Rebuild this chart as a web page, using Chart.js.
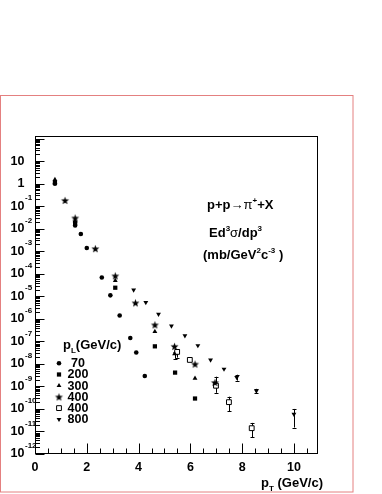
<!DOCTYPE html>
<html><head><meta charset="utf-8">
<script src="https://cdn.jsdelivr.net/npm/chart.js@4/dist/chart.umd.min.js"></script>
<style>
html,body{margin:0;padding:0;background:#fff;}
#wrap{position:relative;width:382px;height:494px;overflow:hidden;}
#c{position:absolute;left:0;top:0;}
.t{position:absolute;font-family:"Liberation Sans",Arial,sans-serif;font-weight:bold;font-size:13px;color:#000;white-space:nowrap;line-height:13px;}
.sp{font-size:8px;position:relative;top:-6px;}
.sb{font-size:8px;position:relative;top:4px;}
.sym{font-weight:normal;}
</style></head>
<body>
<div id="wrap">
<canvas id="c" width="382" height="494"></canvas>
<div class="t" style="left:207px;top:198px;">p+p<span class="sym">&rarr;&pi;</span><span class="sp">+</span>+X</div>
<div class="t" style="left:209px;top:226px;">Ed<span class="sp">3</span><span class="sym">&sigma;</span>/dp<span class="sp">3</span></div>
<div class="t" style="left:203px;top:248px;">(mb/GeV<span class="sp">2</span>c<span class="sp">-3</span> )</div>
<div class="t" style="left:63px;top:338px;">p<span class="sb">L</span>(GeV/c)</div>
<div class="t" style="left:261px;top:476px;">p<span class="sb">T</span> (GeV/c)</div>
</div>
<script>
// ---------------- data ----------------
const seriesLabels = ['70', '200', '300', '400', '400', '800'];

const pT_70  = [0.77, 1.55, 1.77, 2.00, 2.58, 2.91, 3.27, 3.68, 3.91, 4.24];
const sig_70 = [1.0, 0.014, 0.0058, 0.0014, 6.8e-5, 1.1e-5, 1.4e-6, 1.4e-7, 3.2e-8, 2.9e-9];

const pT_200  = [0.77, 1.55, 3.10, 4.63, 5.41, 6.18];
const sig_200 = [1.1, 0.018, 2.4e-5, 6.0e-8, 4.1e-9, 2.9e-10];

const pT_300  = [0.77, 1.55, 3.10, 4.63, 5.39, 6.18];
const sig_300 = [1.5, 0.022, 5.0e-5, 2.7e-7, 2.8e-8, 2.3e-9];
const lo_300  = [null, null, null, null, 1.7e-8, null];
const hi_300  = [null, null, null, null, 3.5e-8, null];

const pT_400  = [1.16, 1.55, 2.33, 3.10, 3.88, 4.63, 5.39, 6.18, 6.95];
const sig_400 = [0.18, 0.030, 0.0013, 8.1e-5, 5.1e-6, 5.4e-7, 6.0e-8, 9.8e-9, 1.5e-9];

const pT_400b  = [5.49, 5.98, 6.99, 7.49, 8.37];
const sig_400b = [3.4e-8, 1.5e-8, 1.07e-9, 2.0e-10, 1.4e-11];
const lo_400b  = [1.9e-8, null, 5.2e-10, 8.1e-11, 5.4e-12];
const hi_400b  = [4.5e-8, null, 2.7e-9, 3.5e-10, 2.4e-11];

const pT_800  = [3.81, 4.28, 4.77, 5.27, 5.79, 6.29, 6.78, 7.30, 7.79, 8.55, 10.0];
const sig_800 = [1.9e-5, 5.3e-6, 1.6e-6, 4.8e-7, 1.8e-7, 6.5e-8, 1.5e-8, 5.9e-9, 2.5e-9, 6.3e-10, 5.9e-11];
const lo_800  = [null, null, null, null, null, null, null, null, 1.8e-9, 4.9e-10, 1.5e-11];
const hi_800  = [null, null, null, null, null, null, null, null, 3.3e-9, 7.8e-10, 1.0e-10];

const xTickValues = [0, 2, 4, 6, 8, 10];
const yTickExps = [-12, -11, -10, -9, -8, -7, -6, -5, -4, -3, -2, -1, 0, 1];

// ---------------- helpers ----------------
function pts(xs, ys) { return xs.map((x, i) => ({x: x, y: ys[i]})); }
function makeStar(R) {
  const s = Math.ceil(2 * R + 2);
  const c = document.createElement('canvas');
  c.width = s; c.height = s;
  const g = c.getContext('2d');
  g.fillStyle = '#000';
  g.beginPath();
  for (let i = 0; i < 10; i++) {
    const r = (i % 2) ? R * 0.42 : R;
    const a = -Math.PI / 2 + i * Math.PI / 5;
    g.lineTo(s / 2 + r * Math.cos(a), s / 2 + r * Math.sin(a) + 0.4);
  }
  g.closePath();
  g.fill();
  return c;
}
const starImg = makeStar(4.2);

const FONT = 'Liberation Sans, Arial, sans-serif';

function ds(label, xs, ys, style, extra) {
  return Object.assign({
    label: label,
    data: pts(xs, ys),
    pointStyle: style,
    pointRadius: 2.4,
    pointBackgroundColor: '#000',
    pointBorderColor: '#000',
    pointBorderWidth: 0,
    showLine: false
  }, extra || {});
}

const datasets = [
  ds(seriesLabels[0], pT_70, sig_70, 'circle', {pointRadius: 2.3}),
  ds(seriesLabels[1], pT_200, sig_200, 'rect', {pointRadius: 3.0}),
  ds(seriesLabels[2], pT_300, sig_300, 'triangle', {pointRadius: 2.8, errLo: lo_300, errHi: hi_300}),
  ds(seriesLabels[3], pT_400, sig_400, starImg, {}),
  ds(seriesLabels[4], pT_400b, sig_400b, 'rect', {pointRadius: 3.4, pointBackgroundColor: '#fff', pointBorderWidth: 1, errLo: lo_400b, errHi: hi_400b}),
  ds(seriesLabels[5], pT_800, sig_800, 'triangle', {pointRadius: 2.8, pointRotation: 180, errLo: lo_800, errHi: hi_800})
];

// ---------------- plugins ----------------
const framePlugin = {
  id: 'frame',
  beforeDraw(chart) {
    const ctx = chart.ctx;
    ctx.save();
    ctx.fillStyle = '#fff';
    ctx.fillRect(0, 0, chart.width, chart.height);
    ctx.strokeStyle = 'rgb(228,128,128)';
    ctx.lineWidth = 1;
    ctx.strokeRect(0.5, 95.5, 352.5, 396.5);
    ctx.restore();
  },
  beforeDatasetsDraw(chart) {
    const ctx = chart.ctx, xs = chart.scales.x, ys = chart.scales.y;
    ctx.save();
    ctx.strokeStyle = '#000';
    ctx.lineWidth = 1;
    chart.data.datasets.forEach(d => {
      if (!d.errLo) return;
      d.data.forEach((p, i) => {
        const lo = d.errLo[i], hi = d.errHi[i];
        if (lo == null) return;
        const x = Math.round(xs.getPixelForValue(p.x)) + 0.5;
        const y1 = ys.getPixelForValue(lo), y2 = ys.getPixelForValue(hi);
        ctx.beginPath();
        ctx.moveTo(x, y1); ctx.lineTo(x, y2);
        ctx.moveTo(x - 2, Math.round(y1) + 0.5); ctx.lineTo(x + 2, Math.round(y1) + 0.5);
        ctx.moveTo(x - 2, Math.round(y2) + 0.5); ctx.lineTo(x + 2, Math.round(y2) + 0.5);
        ctx.stroke();
      });
    });
    ctx.restore();
  },
  afterDraw(chart) {
    const ctx = chart.ctx, a = chart.chartArea, xs = chart.scales.x, ys = chart.scales.y;
    ctx.save();
    ctx.strokeStyle = '#000';
    ctx.lineWidth = 1;
    ctx.strokeRect(Math.round(a.left) + 0.5, Math.round(a.top) + 0.5, Math.round(a.right - a.left) - 1, Math.round(a.bottom - a.top) - 1);
    ctx.beginPath();
    const L = Math.round(a.left) + 0.5, B = Math.round(a.bottom) - 0.5;
    for (let e = -12; e <= 2; e++) {
      for (let m = 1; m <= 9; m++) {
        const v = m * Math.pow(10, e);
        if (v < ys.min || v > ys.max) continue;
        const y = Math.round(ys.getPixelForValue(v)) + 0.5;
        ctx.moveTo(L, y); ctx.lineTo(L + (m === 1 ? 9 : 4.5), y);
      }
    }
    for (let k = 0; k * 0.5 <= xs.max + 1e-9; k++) {
      const v = k * 0.5;
      const x = Math.round(xs.getPixelForValue(v)) + 0.5;
      const major = xTickValues.includes(v);
      ctx.moveTo(x, B); ctx.lineTo(x, B - (major ? 10 : 5));
    }
    ctx.stroke();
    ctx.fillStyle = '#000';
    ctx.font = 'bold 8px ' + FONT;
    ctx.textAlign = 'left';
    ctx.textBaseline = 'middle';
    yTickExps.forEach(e => {
      if (e >= 0) return;
      const y = ys.getPixelForValue(Math.pow(10, e));
      ctx.fillText(String(e), 25, y - 8);
    });
    const lx = 59, ly0 = 363.3, step = 11.2;
    ctx.font = 'bold 12.5px ' + FONT;
    ctx.textAlign = 'center';
    chart.data.datasets.forEach((d, i) => {
      const y = ly0 + i * step;
      ctx.fillStyle = d.pointBackgroundColor;
      ctx.strokeStyle = d.pointBorderColor;
      ctx.lineWidth = d.pointBorderWidth;
      Chart.helpers.drawPoint(ctx, {
        pointStyle: d.pointStyle, radius: d.pointRadius,
        rotation: d.pointRotation || 0, borderWidth: d.pointBorderWidth
      }, lx, y);
      ctx.fillStyle = '#000';
      ctx.fillText(d.label, 78, y + 0.5);
    });
    ctx.restore();
  }
};

new Chart(document.getElementById('c'), {
  type: 'scatter',
  data: {datasets: datasets},
  options: {
    responsive: false,
    animation: false,
    events: [],
    layout: {padding: {left: 0, top: 136, right: 64, bottom: 0}},
    plugins: {legend: {display: false}, tooltip: {enabled: false}},
    scales: {
      x: {
        type: 'linear', min: 0, max: 10.93,
        afterFit: s => { s.height = 40; },
        afterBuildTicks: s => { s.ticks = xTickValues.map(v => ({value: v})); },
        grid: {display: false, drawTicks: false},
        border: {display: false},
        ticks: {autoSkip: false, padding: 6, color: '#000', maxRotation: 0,
                font: {family: FONT, weight: 'bold', size: 12.5},
                callback: v => String(v)}
      },
      y: {
        type: 'logarithmic', min: 1e-12, max: 130,
        afterFit: s => { s.width = 35; },
        afterBuildTicks: s => { s.ticks = yTickExps.map(e => ({value: Math.pow(10, e)})); },
        grid: {display: false, drawTicks: false},
        border: {display: false},
        ticks: {autoSkip: false, padding: 10.5, color: '#000',
                font: {family: FONT, weight: 'bold', size: 12.5},
                callback: v => {
                  const e = Math.round(Math.log10(v));
                  return e === 0 ? '1' : '10';
                }}
      }
    }
  },
  plugins: [framePlugin]
});
</script>
</body></html>
